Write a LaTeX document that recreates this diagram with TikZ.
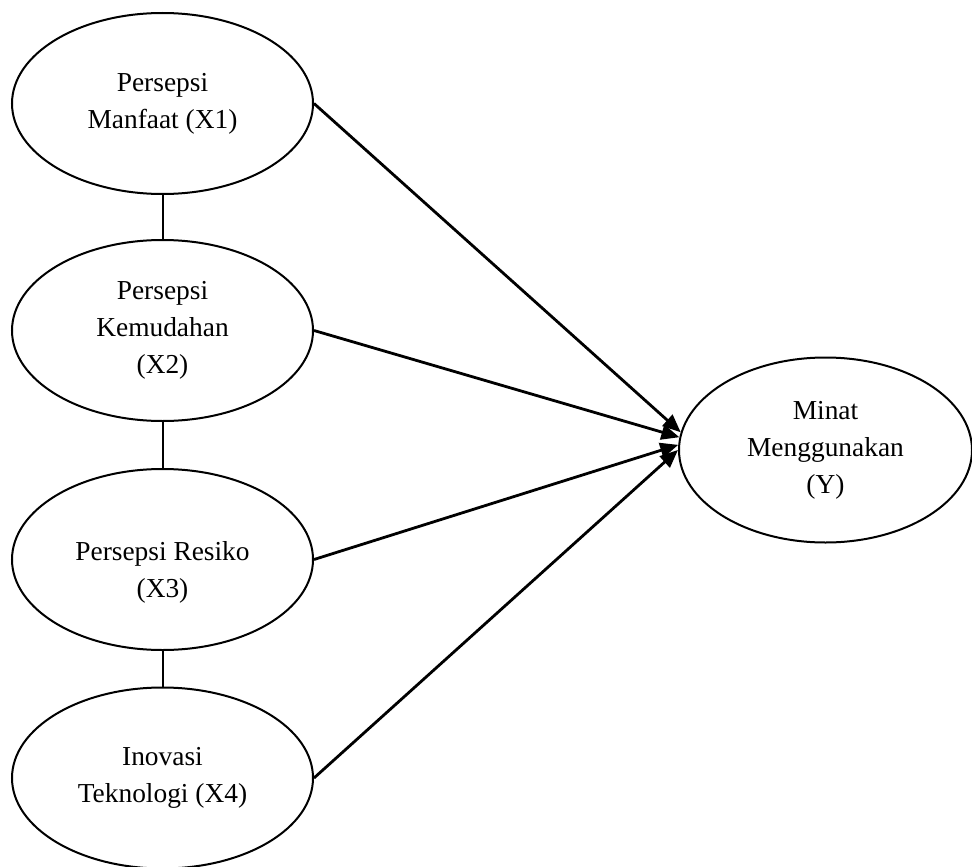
\documentclass[tikz,border=0pt]{standalone}
\usepackage{fontspec}
\setmainfont{Liberation Serif}
\usetikzlibrary{shapes.geometric,arrows.meta}

\tikzset{
  var/.style={ellipse,draw,line width=2pt,inner sep=0pt,
    minimum width=301pt,minimum height=181pt,align=center,
    font=\fontsize{27.4}{37}\selectfont},
  path/.style={line width=2.8pt,-{Triangle[length=18pt,width=15pt]}},
  link/.style={line width=2pt}
}

\begin{document}
\begin{tikzpicture}[x=1pt,y=-1pt]
  \useasboundingbox (0,0) rectangle (972,867);
  \node[var] (x1) at (162.5,103.5) {Persepsi\\Manfaat (X1)};
  \node[var] (x2) at (162.5,330.5) {Persepsi\\Kemudahan\\(X2)};
  \node[var] (x3) at (162.5,559.5) {\rule{0pt}{44pt}Persepsi Resiko\\(X3)};
  \node[var] (x4) at (162.5,778) {Inovasi\\Teknologi (X4)};
  \node[var,minimum width=293pt,minimum height=185pt] (y) at (825.5,450) {Minat\\Menggunakan\\(Y)};
  \draw[link] (x1) -- (x2);
  \draw[link] (x2) -- (x3);
  \draw[link] (x3) -- (x4);
  \draw[path] (x1.east) -- (y.173);
  \draw[path] (x2.east) -- (y.175);
  \draw[path] (x3.east) -- (y.178);
  \draw[path] (x4.east) -- (y.180);
\end{tikzpicture}
\end{document}
